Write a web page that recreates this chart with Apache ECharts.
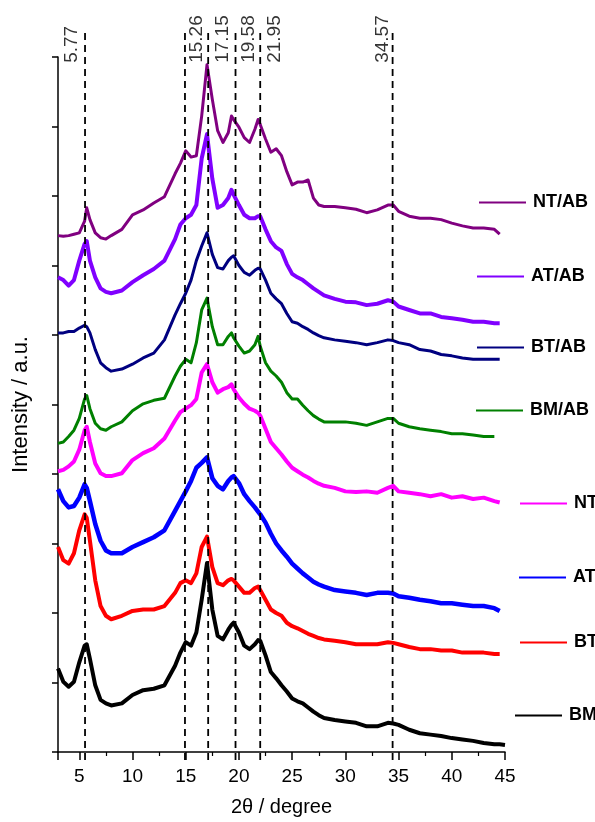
<!DOCTYPE html>
<html><head><meta charset="utf-8">
<script src="https://cdn.jsdelivr.net/npm/echarts@6/dist/echarts.min.js"></script>
<style>html,body{margin:0;padding:0;background:#fff}#c{width:595px;height:822px}</style>
</head><body><div id="c"></div>
<script>
// ---- data ----
const twoTheta = [3,3.5,4,4.5,5,5.5,5.7,6,6.5,7,7.5,8,9,10,11,12,13,14,14.5,15,15.5,16,16.5,17,17.5,18,18.5,19,19.3,19.5,20,20.5,21,21.5,21.8,22,22.5,23,23.5,24,24.5,25,25.5,26,26.5,27,27.5,28,29,30,31,32,33,34,34.5,35,36,37,38,39,40,41,42,43,44,44.5,45];
const seriesNames = ['NT/AB','AT/AB','BT/AB','BM/AB','NT','AT','BT','BM'];
const NT_AB = [74.3,74.2,74.3,74.5,74.7,76.4,78.3,76.6,74.7,74.0,73.8,74.3,75.2,77.3,78.0,79.0,79.9,83.2,84.7,86.5,85.6,85.8,91.5,98.9,93.9,89.4,87.7,89.1,91.5,91.0,89.9,88.4,87.7,89.6,91.0,90.3,88.2,86.3,86.8,85.8,83.5,81.6,82.0,82.0,82.3,79.7,78.7,78.5,78.5,78.3,78.1,77.6,78.0,78.7,78.7,77.8,77.1,76.8,76.8,76.6,76.1,75.7,75.4,75.4,75.2,74.5,null];
const AT_AB = [68.3,67.9,67.1,67.9,70.7,73.1,73.5,70.7,68.3,66.7,66.2,66.0,66.4,67.6,68.6,69.5,70.7,73.8,75.9,76.8,77.3,78.7,85.4,88.9,82.5,78.3,78.7,79.7,80.9,80.2,78.7,77.3,76.8,76.8,77.1,77.1,75.2,73.5,72.6,72.1,70.2,68.8,68.3,67.9,67.3,66.7,66.2,65.7,65.2,64.8,64.7,64.3,64.5,65.0,64.8,64.1,63.6,63.1,63.1,62.6,62.4,62.2,61.9,61.9,61.7,61.7,null];
const BT_AB = [60.3,60.3,60.5,60.5,61.0,61.4,61.2,60.3,57.9,56.0,55.3,54.8,55.1,55.8,56.7,57.4,59.3,62.9,64.5,66.0,67.9,70.7,72.8,74.7,71.6,69.7,69.5,70.7,71.2,71.4,70.0,69.0,68.6,69.3,69.6,69.5,67.9,66.0,65.2,64.5,63.1,61.9,61.7,61.2,60.8,60.3,59.9,59.6,59.3,59.1,58.9,58.6,58.9,59.3,59.2,58.9,58.6,57.9,57.7,57.2,57.0,56.7,56.5,56.5,56.5,56.5,null];
const BM_AB = [44.4,44.6,45.4,46.3,48.0,50.8,51.3,49.4,47.3,46.5,46.3,46.8,47.5,49.1,50.1,50.6,50.9,54.1,55.5,56.5,56.0,58.9,63.6,65.3,61.2,58.6,58.6,59.8,60.3,59.6,58.4,57.4,57.7,58.6,59.8,58.4,56.0,54.8,54.1,53.2,51.7,50.8,50.8,49.9,49.1,48.4,47.9,47.5,47.5,47.5,47.3,47.0,47.5,48.0,48.0,47.3,46.8,46.5,46.3,46.1,45.8,45.8,45.6,45.4,45.4,null,null];
const NT = [40.4,40.6,41.1,41.8,43.5,46.3,46.8,44.6,41.5,40.1,39.7,39.7,40.1,42.0,43.0,43.7,45.1,47.7,48.9,49.4,49.9,50.8,54.6,55.8,53.2,51.7,52.2,52.5,52.9,52.2,51.0,50.1,49.4,49.1,48.8,48.4,46.5,44.6,43.7,42.8,41.8,40.9,40.4,39.9,39.5,39.0,38.6,38.3,38.0,37.5,37.4,37.5,37.3,38.0,38.3,37.5,37.3,37.1,36.8,37.1,36.6,36.8,36.4,36.6,36.1,35.9,null];
const AT = [37.8,36.1,35.2,35.4,36.6,38.5,38.0,36.1,32.8,30.4,29.0,28.6,28.6,29.5,30.2,30.9,31.9,34.7,36.1,37.5,39.0,40.9,41.6,42.4,39.4,38.3,37.8,39.0,39.5,39.7,38.7,37.1,36.1,35.2,34.6,34.2,33.0,31.4,30.0,29.0,28.1,27.1,26.4,25.7,25.1,24.5,24.1,23.8,23.3,23.1,22.9,22.6,22.9,22.9,22.8,22.4,22.2,21.9,21.7,21.4,21.4,21.2,21.0,21.0,20.7,20.3,null];
const BT = [29.5,27.6,27.1,28.6,31.9,34.2,33.7,30.4,24.7,21.0,19.6,19.1,19.6,20.3,20.5,20.5,21.0,22.9,24.3,24.7,24.3,25.7,29.5,31.0,26.6,24.3,24.0,24.7,24.9,24.7,23.8,22.9,22.9,23.6,23.8,23.3,21.9,20.5,20.0,19.6,18.6,18.1,17.8,17.4,17.0,16.7,16.4,16.2,16.0,15.8,15.5,15.5,15.5,15.8,15.7,15.5,15.1,14.8,14.8,14.6,14.6,14.3,14.3,14.3,14.1,14.1,null];
const BM = [12.0,10.1,9.4,10.1,12.9,15.3,15.5,13.4,9.6,7.5,7.0,6.7,7.0,8.2,8.9,9.1,9.6,12.4,14.3,15.8,15.3,17.2,21.9,27.2,20.5,16.7,16.2,17.6,18.3,18.6,17.2,15.3,14.8,15.5,16.1,16.0,13.9,11.5,10.6,9.6,8.7,7.7,7.3,7.0,6.4,5.8,5.3,4.9,4.6,4.4,4.2,3.7,3.7,4.2,4.1,3.9,3.2,2.7,2.5,2.3,2.0,1.8,1.6,1.3,1.1,1.1,1.0];
const peakPositions = [5.54,14.93,17.11,19.68,22.0,34.44];
const peakLabels = ['5.77','15.26','17.15','19.58','21.95','34.57'];
const xTicks = [5,10,15,20,25,30,35,40,45];

// ---- styling ----
const allValues = [NT_AB,AT_AB,BT_AB,BM_AB,NT,AT,BT,BM];
const colors = ['#800080','#8000ff','#000080','#008000','#ff00ff','#0000ff','#ff0000','#000000'];
const widths = [3,4,3,3,4,4.5,4,4];
const legendLeft = [479,477,477,476,520,519,520,515];
const legendY = [201,275,346,409,502,576,641,714];
const labelShiftPx = [-13,12,15,13,15,-10];
const pxPerDeg = 447/42;
const FONT = 'Liberation Sans, Arial, sans-serif';

const chart = echarts.init(document.getElementById('c'), null, {renderer:'canvas'});

const series = [];
allValues.forEach((vals, i) => {
  series.push({
    name: seriesNames[i], type: 'line', xAxisIndex: 0, yAxisIndex: 0,
    data: twoTheta.map((x, k) => [x, vals[k]]),
    showSymbol: false, symbol: 'none', smooth: false, connectNulls: false,
    lineStyle: {color: colors[i], width: widths[i], join: 'round'}, itemStyle: {color: colors[i]},
    z: 3 + (7 - i), silent: true, animation: false
  });
});
peakPositions.forEach((p, i) => {
  series.push({
    type: 'line', xAxisIndex: 1, yAxisIndex: 1, data: [[p, 0], [p, 1]],
    showSymbol: false, symbol: 'none', silent: true, animation: false, z: 20,
    lineStyle: {color: '#000', width: 1.8, type: [7, 5]}
  });
});
series.push({
  type: 'scatter', xAxisIndex: 1, yAxisIndex: 1, symbolSize: 0, silent: true, animation: false,
  data: peakPositions.map((p, i) => ({value: [p + labelShiftPx[i] / pxPerDeg, 0.955], name: peakLabels[i]})),
  label: {show: true, position: 'inside', rotate: 90, align: 'left', verticalAlign: 'middle',
    formatter: d => d.name, color: '#000', fontSize: 19, fontFamily: FONT}
});

const legends = seriesNames.map((n, i) => ({
  data: [n], left: legendLeft[i], top: legendY[i] - 7.5, padding: 0, itemGap: 0,
  icon: 'rect', itemWidth: 47, itemHeight: 2, selectedMode: false,
  textStyle: {fontSize: 18, fontWeight: 'bold', color: '#000', fontFamily: FONT, padding: [0,0,0,2]}
}));

chart.setOption({
  animation: false,
  backgroundColor: '#fff',
  legend: legends,
  grid: [
    {left: 58, right: 90, top: 57, bottom: 62, containLabel: false},
    {left: 58, right: 90, top: 30, bottom: 62, containLabel: false}
  ],
  xAxis: [
    {type: 'value', gridIndex: 0, min: 3, max: 45, splitNumber: 8,
     name: '2\u03b8 / degree', nameLocation: 'middle', nameGap: 45,
     nameTextStyle: {fontSize: 20, color: '#000', fontFamily: FONT},
     axisLine: {show: true, lineStyle: {color: '#000', width: 1.5}},
     axisTick: {show: true, length: 8, inside: false, lineStyle: {color: '#000', width: 1.5}},
     minorTick: {show: true, splitNumber: 2, length: 4, lineStyle: {color: '#000', width: 1.2}},
     splitLine: {show: false},
     axisLabel: {fontSize: 19, color: '#000', fontFamily: FONT, margin: 15,
       formatter: v => xTicks.indexOf(v) >= 0 ? String(v) : ''}},
    {type: 'value', gridIndex: 1, min: 3, max: 45, show: false}
  ],
  yAxis: [
    {type: 'value', gridIndex: 0, min: 0, max: 100, interval: 10,
     name: 'Intensity / a.u.', nameLocation: 'middle', nameGap: 26, nameRotate: 90,
     nameTextStyle: {fontSize: 22, color: '#000', fontFamily: FONT},
     axisLine: {show: true, lineStyle: {color: '#000', width: 1.5}},
     axisTick: {show: true, length: 6, lineStyle: {color: '#000', width: 1.5}},
     axisLabel: {show: false}, splitLine: {show: false}},
    {type: 'value', gridIndex: 1, min: 0, max: 1, show: false}
  ],
  series: series
});
</script></body></html>
